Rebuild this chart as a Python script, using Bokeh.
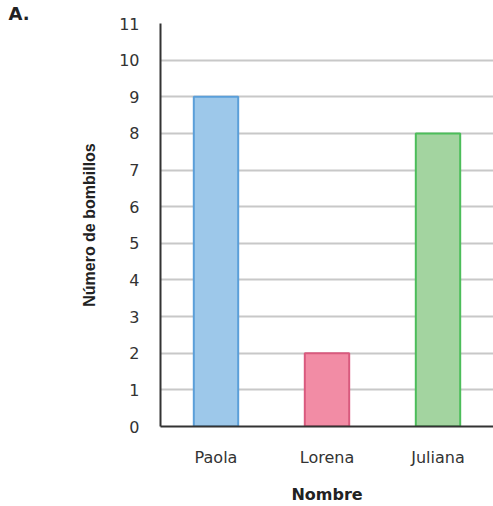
from bokeh.plotting import figure
from bokeh.models import FactorRange, Range1d, ColumnDataSource, FixedTicker
from bokeh.embed import file_html
from bokeh.resources import INLINE

# Bulbs per person
nombres = ["Paola", "Lorena", "Juliana"]
bombillos = [9, 2, 8]
relleno = ["#9dc8ea", "#f28ca5", "#a3d4a0"]
borde = ["#5b9fd9", "#d95a7e", "#4cbd5a"]
y_ticks = list(range(0, 12))

src = ColumnDataSource(dict(x=nombres, top=bombillos, fill=relleno, line=borde))

p = figure(
    width=493, height=506,
    x_range=FactorRange(*nombres, range_padding=0),
    y_range=Range1d(0, 11),
    output_backend="svg", toolbar_location=None,
    min_border_left=160, min_border_right=0,
    min_border_top=22, min_border_bottom=70,
    title="A.",
)
p.outline_line_color = None
p.background_fill_color = "white"
p.border_fill_color = "white"

# panel letter in the top-left corner
p.title.align = "left"
p.title.offset = -152
p.title.standoff = 0
p.title.text_font = "DejaVu Sans"
p.title.text_font_style = "bold"
p.title.text_font_size = "18px"
p.title.text_color = "#222222"

p.vbar(x="x", top="top", width=0.4, bottom=0, source=src,
       fill_color="fill", line_color="line", line_width=2)

# grid
p.xgrid.grid_line_color = None
p.ygrid.ticker = FixedTicker(ticks=y_ticks)
p.ygrid.grid_line_color = "#c8c8c8"
p.ygrid.grid_line_width = 2

# y axis
p.yaxis.ticker = FixedTicker(ticks=y_ticks)
p.yaxis.axis_line_color = "#333333"
p.yaxis.axis_line_width = 2
p.yaxis.major_tick_line_color = None
p.yaxis.minor_tick_line_color = None
p.yaxis.major_label_standoff = 15
p.yaxis.major_label_text_font = "DejaVu Sans"
p.yaxis.major_label_text_font_size = "16px"
p.yaxis.major_label_text_color = "#333333"
p.yaxis.axis_label = "Número de bombillos"
p.yaxis.axis_label_text_font = "Liberation Sans"
p.yaxis.axis_label_text_font_style = "bold"
p.yaxis.axis_label_text_font_size = "16px"
p.yaxis.axis_label_text_color = "#222222"
p.yaxis.axis_label_standoff = 18

# x axis
p.xaxis.axis_line_color = "#333333"
p.xaxis.axis_line_width = 2
p.xaxis.major_tick_line_color = None
p.xaxis.minor_tick_line_color = None
p.xaxis.major_label_standoff = 15
p.xaxis.major_label_text_font = "DejaVu Sans"
p.xaxis.major_label_text_font_size = "16px"
p.xaxis.major_label_text_color = "#333333"
p.xaxis.axis_label = "Nombre"
p.xaxis.axis_label_text_font = "DejaVu Sans"
p.xaxis.axis_label_text_font_style = "bold"
p.xaxis.axis_label_text_font_size = "16px"
p.xaxis.axis_label_text_color = "#222222"
p.xaxis.axis_label_standoff = 15

open("out.html", "w").write(file_html(p, INLINE))
